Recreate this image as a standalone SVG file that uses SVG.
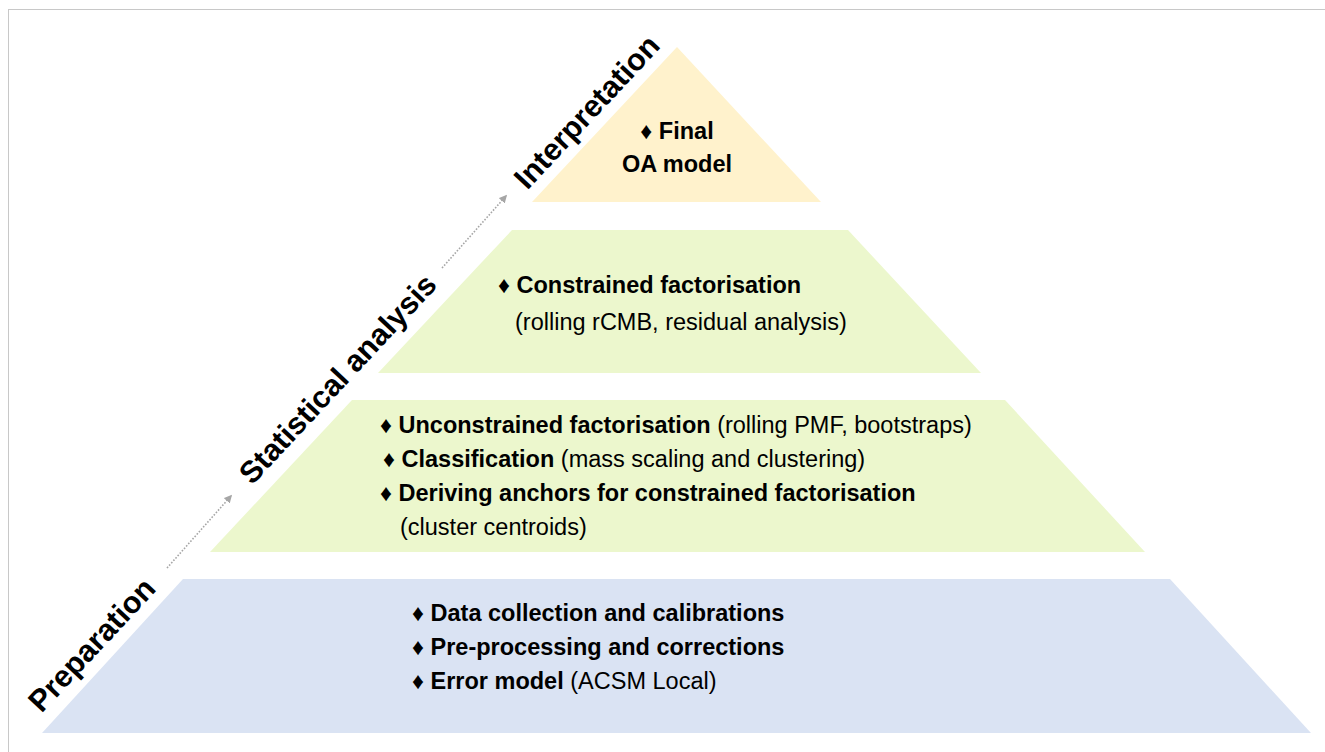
<svg xmlns="http://www.w3.org/2000/svg" width="1325" height="752" viewBox="0 0 1325 752">
<style>
.t{font-family:"Liberation Sans",Arial,sans-serif;font-size:23.5px;fill:#000;}
.b{font-weight:bold;}
.n{font-weight:normal;}
.lbl{font-family:"Liberation Sans",Arial,sans-serif;font-size:30.5px;font-weight:bold;fill:#000;text-anchor:middle;}
.arr{stroke:#A6A6A6;stroke-width:1.6;stroke-dasharray:1.6 1.6;fill:none;}
</style>
<defs>
<marker id="ah" viewBox="0 0 10 10" refX="8" refY="5" markerWidth="5" markerHeight="5" orient="auto" markerUnits="strokeWidth">
<path d="M0,0 L10,5 L0,10 Z" fill="#A6A6A6"/>
</marker>
</defs>
<rect x="0" y="0" width="1325" height="752" fill="#fff"/>
<rect x="8.5" y="9.5" width="1400" height="800" fill="none" stroke="#C8C8C8" stroke-width="1"/>

<g id="level-interpretation">
<polygon points="677,47 821,202 532,202" fill="#FFF2CC"/>
<text class="t b" x="677" y="139" text-anchor="middle">♦ Final</text>
<text class="t b" x="677" y="172" text-anchor="middle">OA model</text>
</g>

<g id="level-constrained">
<polygon points="512,230 848,230 981,373 378,373" fill="#ECF7CD"/>
<text class="t b" x="498" y="293">♦ Constrained factorisation</text>
<text class="t" x="515" y="330">(rolling rCMB, residual analysis)</text>
</g>

<g id="level-unconstrained">
<polygon points="352,400 1005,400 1145,552 210,552" fill="#ECF7CD"/>
<text class="t b" x="380" y="433">♦ Unconstrained factorisation <tspan class="n">(rolling PMF, bootstraps)</tspan></text>
<text class="t b" x="383" y="467">♦ Classification <tspan class="n">(mass scaling and clustering)</tspan></text>
<text class="t b" x="380" y="501">♦ Deriving anchors for constrained factorisation</text>
<text class="t" x="400" y="535">(cluster centroids)</text>
</g>

<g id="level-preparation">
<polygon points="183,579 1170,579 1311,733 42,733" fill="#DAE3F3"/>
<text class="t b" x="412" y="621">♦ Data collection and calibrations</text>
<text class="t b" x="412" y="655">♦ Pre-processing and corrections</text>
<text class="t b" x="412" y="689">♦ Error model <tspan class="n">(ACSM Local)</tspan></text>
</g>

<g id="stage-labels">
<text class="lbl" transform="translate(92,645) rotate(-47)" y="10">Preparation</text>
<text class="lbl" transform="translate(338,379) rotate(-47)" y="10">Statistical analysis</text>
<text class="lbl" transform="translate(587,112) rotate(-47)" y="10">Interpretation</text>
</g>

<g id="connectors">
<line class="arr" x1="167" y1="568" x2="231" y2="496" marker-end="url(#ah)"/>
<line class="arr" x1="442" y1="268" x2="506" y2="196" marker-end="url(#ah)"/>
</g>
</svg>
